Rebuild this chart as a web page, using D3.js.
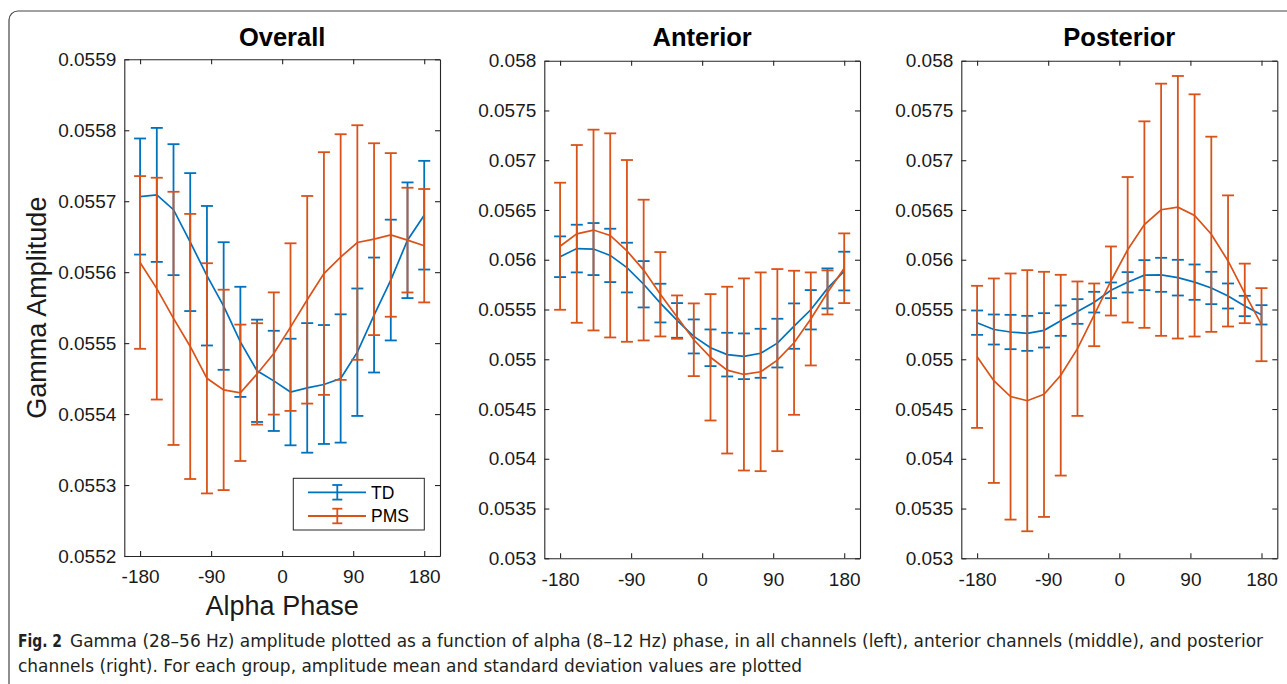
<!DOCTYPE html>
<html>
<head>
<meta charset="utf-8">
<script src="https://cdn.jsdelivr.net/npm/d3@7"></script>
<style>
  html, body { margin: 0; padding: 0; background: #fff; }
  svg { display: block; }
  .tick text { font-family: "Liberation Sans", Arial, Helvetica, sans-serif; }
</style>
</head>
<body>
<svg id="chart" width="1287" height="684"></svg>
<script>
// alpha phase bins (18 bins from -180 to 180)
var phase = [-180, -158.82, -137.65, -116.47, -95.29, -74.12, -52.94, -31.76, -10.59,
  10.59, 31.76, 52.94, 74.12, 95.29, 116.47, 137.65, 158.82, 180];

var xTicks = [-180, -90, 0, 90, 180];
var xTickLabels = ['-180', '-90', '0', '90', '180'];

var overallTicks = [0.0552, 0.0553, 0.0554, 0.0555, 0.0556, 0.0557, 0.0558, 0.0559];
var overallTickLabels = ['0.0552', '0.0553', '0.0554', '0.0555', '0.0556', '0.0557', '0.0558', '0.0559'];
var regionTicks = [0.053, 0.0535, 0.054, 0.0545, 0.055, 0.0555, 0.056, 0.0565, 0.057, 0.0575, 0.058];
var regionTickLabels = ['0.053', '0.0535', '0.054', '0.0545', '0.055', '0.0555', '0.056', '0.0565', '0.057', '0.0575', '0.058'];

var groups = ['TD', 'PMS'];
var colors = { TD: '#0072BD', PMS: '#D95319' };

// overall (all channels)
var overallTdMean = [0.0557066, 0.0557089, 0.0556881, 0.0556424, 0.0555950, 0.0555523, 0.0555018, 0.0554610, 0.0554468,
  0.0554311, 0.0554369, 0.0554417, 0.0554502, 0.0554872, 0.0555396, 0.0555889, 0.0556450, 0.0556803];
var overallTdSd = [0.0000818, 0.0000944, 0.0000923, 0.0000972, 0.0000983, 0.0000899, 0.0000776, 0.0000721, 0.0000706,
  0.0000751, 0.0000913, 0.0000838, 0.0000904, 0.0000898, 0.0000810, 0.0000851, 0.0000815, 0.0000766];
var overallPmsMean = [0.0556137, 0.0555768, 0.0555349, 0.0554953, 0.0554504, 0.0554341, 0.0554300, 0.0554566, 0.0554854,
  0.0555226, 0.0555611, 0.0555981, 0.0556213, 0.0556418, 0.0556465, 0.0556525, 0.0556452, 0.0556373];
var overallPmsSd = [0.0001217, 0.0001563, 0.0001784, 0.0001868, 0.0001622, 0.0001412, 0.0000961, 0.0000714, 0.0000861,
  0.0001181, 0.0001463, 0.0001710, 0.0001731, 0.0001653, 0.0001352, 0.0001153, 0.0000738, 0.0000799];

// anterior channels
var anteriorTdMean = [0.0560302, 0.0561123, 0.0561073, 0.0560436, 0.0559213, 0.0557537, 0.0555644, 0.0553902, 0.0552293,
  0.0551153, 0.0550466, 0.0550299, 0.0550600, 0.0551623, 0.0553332, 0.0554974, 0.0557119, 0.0558861];
var anteriorTdSd = [0.0002045, 0.0002396, 0.0002614, 0.0002681, 0.0002497, 0.0002329, 0.0001944, 0.0001743, 0.0001709,
  0.0001843, 0.0002195, 0.0002296, 0.0002463, 0.0002447, 0.0002279, 0.0001978, 0.0002011, 0.0001944];
var anteriorPmsMean = [0.0561357, 0.0562597, 0.0562983, 0.0562446, 0.0560889, 0.0558962, 0.0556532, 0.0554236, 0.0551958,
  0.0550198, 0.0548909, 0.0548473, 0.0548741, 0.0549914, 0.0551656, 0.0554052, 0.0556716, 0.0559146];
var anteriorPmsSd = [0.0006384, 0.0008930, 0.0010087, 0.0010254, 0.0009132, 0.0007071, 0.0004239, 0.0002178, 0.0003653,
  0.0006350, 0.0008378, 0.0009651, 0.0009986, 0.0009149, 0.0007238, 0.0004675, 0.0002212, 0.0003502];

// posterior channels
var posteriorTdMean = [0.0553676, 0.0552989, 0.0552738, 0.0552604, 0.0552906, 0.0553878, 0.0554799, 0.0555737, 0.0556927,
  0.0557731, 0.0558452, 0.0558485, 0.0558200, 0.0557748, 0.0557162, 0.0556358, 0.0555352, 0.0554464];
var posteriorTdSd = [0.0001223, 0.0001508, 0.0001726, 0.0001759, 0.0001726, 0.0001525, 0.0001240, 0.0001039, 0.0000788,
  0.0001022, 0.0001508, 0.0001709, 0.0001793, 0.0001776, 0.0001626, 0.0001257, 0.0001022, 0.0000972];
var posteriorPmsMean = [0.0550242, 0.0547846, 0.0546254, 0.0545835, 0.0546472, 0.0548399, 0.0551063, 0.0554464, 0.0557865,
  0.0561002, 0.0563532, 0.0565023, 0.0565275, 0.0564454, 0.0562560, 0.0559879, 0.0556618, 0.0553476];
var posteriorPmsSd = [0.0007138, 0.0010271, 0.0012365, 0.0013119, 0.0012315, 0.0010087, 0.0006753, 0.0003150, 0.0003468,
  0.0007309, 0.0010375, 0.0012670, 0.0013190, 0.0012168, 0.0009805, 0.0006588, 0.0002992, 0.0003670];

var FONT = '"Liberation Sans", Arial, Helvetica, sans-serif';
var svg = d3.select('#chart');

// rounded figure frame
svg.append('rect')
  .attr('x', 9).attr('y', 11)
  .attr('width', 1320).attr('height', 700)
  .attr('rx', 9)
  .attr('fill', '#fff')
  .attr('stroke', '#444')
  .attr('stroke-width', 1.2);

var panels = [
  { title: 'Overall', left: 124.3, right: 440, top: 59.3, bottom: 556,
    ticks: overallTicks, labels: overallTickLabels,
    series: { TD: [overallTdMean, overallTdSd], PMS: [overallPmsMean, overallPmsSd] } },
  { title: 'Anterior', left: 544.3, right: 860, top: 60.7, bottom: 558.3,
    ticks: regionTicks, labels: regionTickLabels,
    series: { TD: [anteriorTdMean, anteriorTdSd], PMS: [anteriorPmsMean, anteriorPmsSd] } },
  { title: 'Posterior', left: 961.3, right: 1277.3, top: 60.7, bottom: 558.3,
    ticks: regionTicks, labels: regionTickLabels,
    series: { TD: [posteriorTdMean, posteriorTdSd], PMS: [posteriorPmsMean, posteriorPmsSd] } }
];

panels.forEach(function(p, pi) {
  var w = p.right - p.left,
    h = p.bottom - p.top;

  var x = d3.scaleLinear().domain([-200, 200]).range([0, w]);
  var y = d3.scaleLinear().domain([p.ticks[0], p.ticks[p.ticks.length - 1]]).range([h, 0]);

  var g = svg.append('g').attr('transform', `translate(${p.left},${p.top})`);

  // error bars and mean lines, TD first then PMS on top
  groups.forEach(function(name) {
    var mean = p.series[name][0],
      sd = p.series[name][1],
      col = colors[name];

    var sg = g.append('g').attr('class', 'series-' + name);

    var bars = sg.selectAll('g.bar').data(phase).enter().append('g').attr('class', 'bar');

    bars.append('line')
      .attr('x1', d => x(d)).attr('x2', d => x(d))
      .attr('y1', (d, i) => y(mean[i] - sd[i]))
      .attr('y2', (d, i) => y(mean[i] + sd[i]));
    bars.append('line')
      .attr('x1', d => x(d) - 6).attr('x2', d => x(d) + 6)
      .attr('y1', (d, i) => y(mean[i] + sd[i]))
      .attr('y2', (d, i) => y(mean[i] + sd[i]));
    bars.append('line')
      .attr('x1', d => x(d) - 6).attr('x2', d => x(d) + 6)
      .attr('y1', (d, i) => y(mean[i] - sd[i]))
      .attr('y2', (d, i) => y(mean[i] - sd[i]));
    bars.selectAll('line').attr('stroke', col).attr('stroke-width', 1.8);

    sg.append('path')
      .datum(phase)
      .attr('fill', 'none')
      .attr('stroke', col)
      .attr('stroke-width', 1.7)
      .attr('d', d3.line().x(d => x(d)).y((d, i) => y(mean[i])));
  });

  // box axes with ticks pointing inward
  var fmtX = d => xTickLabels[xTicks.indexOf(d)];
  var fmtY = d => p.labels[p.ticks.indexOf(d)];

  var axes = [
    { axis: d3.axisBottom(x).tickValues(xTicks).tickFormat(fmtX).tickPadding(14), t: `translate(0,${h})` },
    { axis: d3.axisTop(x).tickValues(xTicks).tickFormat(''), t: 'translate(0,0)' },
    { axis: d3.axisLeft(y).tickValues(p.ticks).tickFormat(fmtY).tickPadding(8), t: 'translate(0,0)' },
    { axis: d3.axisRight(y).tickValues(p.ticks).tickFormat(''), t: `translate(${w},0)` }
  ];

  axes.forEach(function(a) {
    var ag = g.append('g')
      .attr('transform', a.t)
      .call(a.axis.tickSizeInner(-5).tickSizeOuter(0));
    ag.select('.domain').attr('stroke', '#262626').attr('stroke-width', 1.1);
    ag.selectAll('.tick line').attr('stroke', '#262626').attr('stroke-width', 1.1);
    ag.selectAll('.tick text')
      .attr('fill', '#1a1a1a')
      .style('font-size', '19px')
      .style('font-family', FONT);
  });

  // panel title
  svg.append('text')
    .attr('x', p.left + x(0))
    .attr('y', 46)
    .attr('text-anchor', 'middle')
    .style('font-family', FONT)
    .style('font-size', '25.5px')
    .style('font-weight', 'bold')
    .attr('fill', '#000')
    .text(p.title);

  if (pi === 0) {
    // axis titles
    svg.append('text')
      .attr('x', p.left + x(0))
      .attr('y', 615)
      .attr('text-anchor', 'middle')
      .style('font-family', FONT)
      .style('font-size', '27px')
      .attr('fill', '#1a1a1a')
      .text('Alpha Phase');

    svg.append('text')
      .attr('transform', `translate(46,${p.top + h / 2}) rotate(-90)`)
      .attr('text-anchor', 'middle')
      .style('font-family', FONT)
      .style('font-size', '27px')
      .attr('fill', '#1a1a1a')
      .text('Gamma Amplitude');

    // legend
    var lg = svg.append('g').attr('transform', 'translate(293.3,478.3)');
    lg.append('rect')
      .attr('width', 131).attr('height', 51.7)
      .attr('fill', '#fff')
      .attr('stroke', '#262626')
      .attr('stroke-width', 1);

    groups.forEach(function(name, i) {
      var ly = 14 + i * 23.7,
        col = colors[name];
      var row = lg.append('g').attr('transform', `translate(0,${ly})`);
      row.append('line').attr('x1', 14.7).attr('x2', 72.7).attr('y1', 0).attr('y2', 0);
      row.append('line').attr('x1', 44).attr('x2', 44).attr('y1', -7.3).attr('y2', 7.3);
      row.append('line').attr('x1', 39).attr('x2', 49).attr('y1', -7.3).attr('y2', -7.3);
      row.append('line').attr('x1', 39).attr('x2', 49).attr('y1', 7.3).attr('y2', 7.3);
      row.selectAll('line').attr('stroke', col).attr('stroke-width', 1.8);
      row.append('text')
        .attr('x', 77.7).attr('y', 6.2)
        .style('font-family', FONT)
        .style('font-size', '17.5px')
        .attr('fill', '#000')
        .text(name);
    });
  }
});

// figure caption
var CAP = '"Liberation Sans Narrow", "DejaVu Sans Condensed", "Liberation Sans", sans-serif';
svg.append('text')
  .attr('x', 18).attr('y', 647)
  .attr('textLength', 44).attr('lengthAdjust', 'spacingAndGlyphs')
  .style('font-family', CAP).style('font-size', '18px').style('font-weight', 'bold')
  .attr('fill', '#231f20')
  .text('Fig. 2');
svg.append('text')
  .attr('x', 70).attr('y', 647)
  .attr('textLength', 1193).attr('lengthAdjust', 'spacingAndGlyphs')
  .style('font-family', CAP).style('font-size', '18px')
  .attr('fill', '#231f20')
  .text('Gamma (28–56 Hz) amplitude plotted as a function of alpha (8–12 Hz) phase, in all channels (left), anterior channels (middle), and posterior');
svg.append('text')
  .attr('x', 18).attr('y', 672)
  .attr('textLength', 784).attr('lengthAdjust', 'spacingAndGlyphs')
  .style('font-family', CAP).style('font-size', '18px')
  .attr('fill', '#231f20')
  .text('channels (right). For each group, amplitude mean and standard deviation values are plotted');
</script>
</body>
</html>
